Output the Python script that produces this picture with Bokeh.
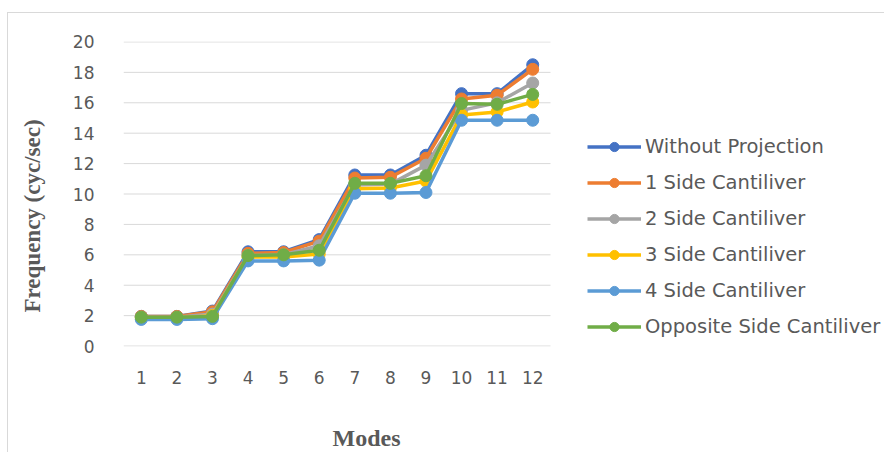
from bokeh.plotting import figure
from bokeh.models import Legend, LegendItem, Range1d, FixedTicker, Title, LinearAxis
from bokeh.embed import file_html
from bokeh.resources import INLINE

modes = [1, 2, 3, 4, 5, 6, 7, 8, 9, 10, 11, 12]
without_projection = [1.95, 1.95, 2.3, 6.2, 6.2, 7.0, 11.25, 11.25, 12.55, 16.6, 16.6, 18.5]
side_1 = [1.95, 1.95, 2.25, 6.1, 6.15, 6.9, 11.05, 11.1, 12.35, 16.25, 16.5, 18.2]
side_2 = [1.9, 1.9, 2.1, 5.95, 6.0, 6.6, 10.6, 10.65, 11.9, 15.5, 16.0, 17.3]
side_3 = [1.85, 1.85, 2.0, 5.85, 5.85, 6.05, 10.35, 10.4, 10.85, 15.2, 15.4, 16.05]
side_4 = [1.75, 1.75, 1.8, 5.6, 5.6, 5.65, 10.05, 10.05, 10.1, 14.85, 14.85, 14.85]
opposite = [1.9, 1.9, 1.95, 5.95, 6.0, 6.3, 10.7, 10.7, 11.2, 15.95, 15.9, 16.55]
y_ticks = [0, 2, 4, 6, 8, 10, 12, 14, 16, 18, 20]

series_names = ["Without Projection", "1 Side Cantiliver", "2 Side Cantiliver",
                "3 Side Cantiliver", "4 Side Cantiliver", "Opposite Side Cantiliver"]
series_values = [without_projection, side_1, side_2, side_3, side_4, opposite]
colors = ["#4472C4", "#ED7D31", "#A5A5A5", "#FFC000", "#5B9BD5", "#70AD47"]

x_lo = modes[0] - 0.5
x_hi = modes[-1] + 0.5
x_end = x_lo + (877 - 115) / ((550 - 123) / len(modes))

p = figure(width=877, height=440, x_range=Range1d(x_lo, x_end),
           y_range=Range1d(-0.03, 20.03), output_backend="svg", toolbar_location=None,
           min_border_left=115, min_border_right=0, min_border_top=28, min_border_bottom=107)
p.outline_line_color = None
p.background_fill_color = "white"
p.border_fill_color = "white"
p.styles = {"margin-left": "7px", "margin-top": "12px",
            "border-left": "1px solid #D9D9D9", "border-top": "1px solid #D9D9D9"}

p.xgrid.grid_line_color = None
p.ygrid.grid_line_color = None
p.segment(x0=[x_lo] * len(y_ticks), x1=[x_hi] * len(y_ticks), y0=y_ticks, y1=y_ticks,
          line_color="#D9D9D9", line_width=1)

items = []
for name, vals, c in zip(series_names, series_values, colors):
    l = p.line(modes, vals, line_color=c, line_width=3.5)
    s = p.scatter(modes, vals, size=12, fill_color=c, line_color=c)
    items.append(LegendItem(label=name, renderers=[l, s]))

p.yaxis.ticker = FixedTicker(ticks=y_ticks)
p.xaxis.ticker = FixedTicker(ticks=modes)

for ax in (p.xaxis[0], p.yaxis[0]):
    ax.axis_line_color = None
    ax.major_tick_line_color = None
    ax.minor_tick_line_color = None
    ax.major_label_text_font = "DejaVu Sans"
    ax.major_label_text_font_size = "17px"
    ax.major_label_text_color = "#595959"

p.yaxis.major_label_standoff = 23
p.xaxis.major_label_standoff = 18


def spacer(gap, tick):
    # an empty axis whose (white) tick only reserves room in a side panel
    return LinearAxis(ticker=FixedTicker(ticks=[tick]), major_tick_out=gap, major_tick_in=0,
                      major_tick_line_color="white", minor_tick_line_color=None,
                      axis_line_color=None, major_label_standoff=0,
                      major_label_overrides={tick: ""}, major_label_text_font_size="1px")


p.add_layout(spacer(36, modes[0]), "below")
x_title = Title(text="Modes", align="left", offset=209, vertical_align="bottom", standoff=0,
                text_font="Liberation Serif", text_font_style="bold",
                text_font_size="24px", text_color="#595959")
p.add_layout(x_title, "below")

p.add_layout(spacer(24, y_ticks[0]), "left")
y_title = Title(text="Frequency (cyc/sec)", align="left", offset=34, vertical_align="middle",
                standoff=0, text_font="Liberation Serif", text_font_style="bold",
                text_font_size="23px", text_color="#595959")
p.add_layout(y_title, "left")

legend = Legend(items=items, location=(464, 8), orientation="vertical",
                padding=0, margin=0, spacing=13, glyph_width=54, glyph_height=23,
                label_height=23, label_standoff=4,
                label_text_font="DejaVu Sans", label_text_font_size="19.5px",
                label_text_color="#595959",
                border_line_color=None, background_fill_alpha=0)
p.add_layout(legend, "center")

open("out.html", "w").write(file_html(p, INLINE))
